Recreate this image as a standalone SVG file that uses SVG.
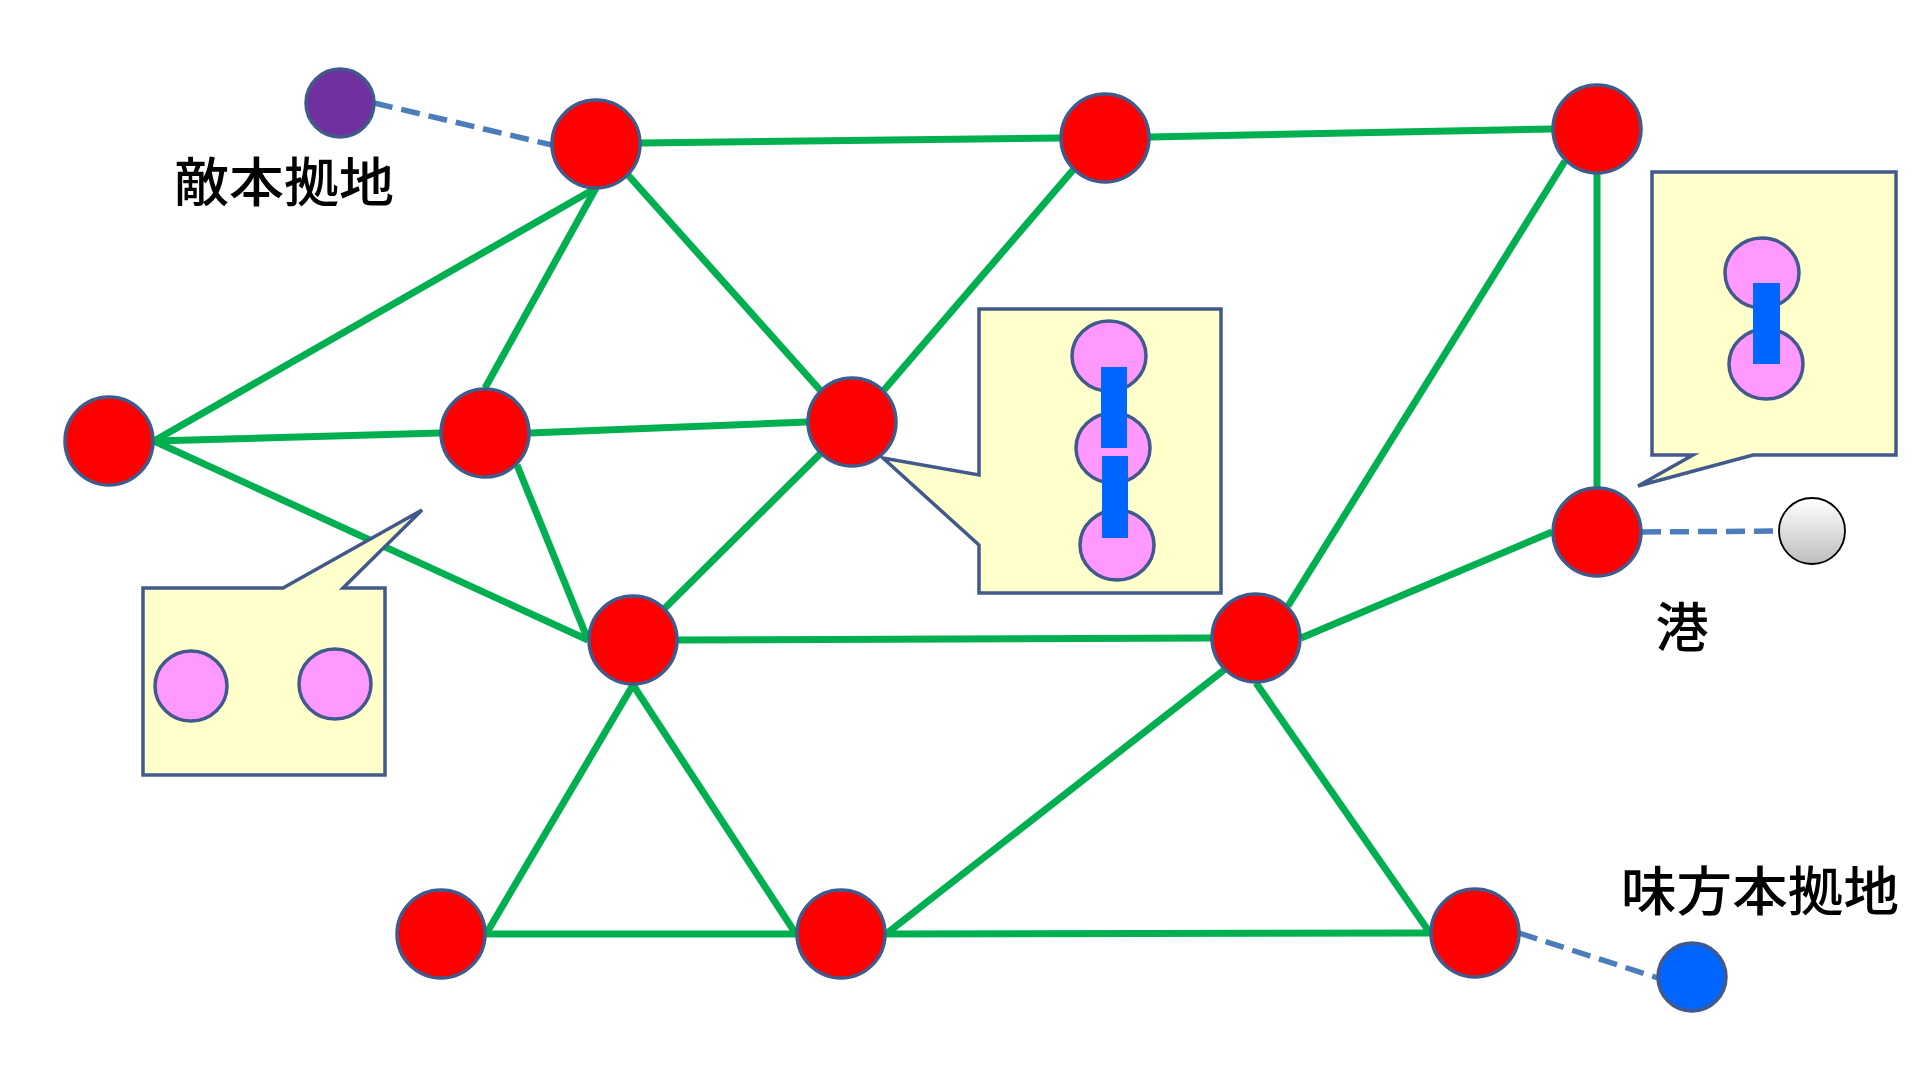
<svg xmlns="http://www.w3.org/2000/svg" width="1920" height="1080" viewBox="0 0 1920 1080">
<defs>
<linearGradient id="gray" x1="0" y1="0" x2="0" y2="1">
<stop offset="0" stop-color="#FFFFFF"/>
<stop offset="1" stop-color="#BDBDBD"/>
</linearGradient>
</defs>
<style>
.edge{stroke:#00B050;stroke-width:7;fill:none;stroke-linecap:butt}
.dash{stroke:#4A7EBB;stroke-width:5.5;fill:none;stroke-dasharray:19 9}
.node{fill:#FF0000;stroke:#41598B;stroke-width:3.5}
.callout{fill:#FFFFCC;stroke:#41598B;stroke-width:3.5;stroke-linejoin:miter}
.unit{fill:#FF99FF;stroke:#41598B;stroke-width:3.5}
.link{fill:#0066FF}
.label{font-family:"Noto Sans CJK JP","Noto Sans CJK SC",sans-serif;font-size:53px;font-weight:500;fill:#000}
</style>
<rect width="1920" height="1080" fill="#FFFFFF"/>
<g id="connectors">
<line class="edge" x1="641" y1="143" x2="1060" y2="138"/>
<line class="edge" x1="1150" y1="137" x2="1552" y2="129"/>
<line class="edge" x1="596" y1="188" x2="154" y2="441"/>
<line class="edge" x1="596" y1="188" x2="485" y2="388"/>
<line class="edge" x1="628" y1="175" x2="820" y2="390"/>
<line class="edge" x1="1073" y1="170" x2="884" y2="390"/>
<line class="edge" x1="1597" y1="174" x2="1597" y2="487"/>
<line class="edge" x1="1565" y1="161" x2="1288" y2="606"/>
<line class="edge" x1="154" y1="441" x2="440" y2="433"/>
<line class="edge" x1="154" y1="441" x2="588" y2="640"/>
<line class="edge" x1="530" y1="433" x2="807" y2="422"/>
<line class="edge" x1="517" y1="465" x2="588" y2="640"/>
<line class="edge" x1="820" y1="454" x2="665" y2="608"/>
<line class="edge" x1="678" y1="640" x2="1211" y2="638"/>
<line class="edge" x1="633" y1="685" x2="486" y2="934"/>
<line class="edge" x1="633" y1="685" x2="796" y2="934"/>
<line class="edge" x1="1301" y1="638" x2="1552" y2="532"/>
<line class="edge" x1="1224" y1="670" x2="886" y2="934"/>
<line class="edge" x1="1256" y1="683" x2="1430" y2="933"/>
<line class="edge" x1="486" y1="934" x2="796" y2="934"/>
<line class="edge" x1="886" y1="934" x2="1430" y2="933"/>
<line class="dash" x1="374" y1="103" x2="552" y2="145"/>
<line class="dash" x1="1642" y1="532" x2="1779" y2="531"/>
<line class="dash" x1="1519" y1="933" x2="1658" y2="978"/>
</g>
<g id="enemy-base">
<circle cx="340" cy="103" r="34" fill="#7030A0" stroke="#41598B" stroke-width="3.5"/>
<text class="label" x="174" y="202" textLength="220" lengthAdjust="spacingAndGlyphs">敵本拠地</text>
</g>
<g id="n1"><circle class="node" cx="596" cy="144" r="44"/></g>
<g id="n2"><circle class="node" cx="1105" cy="138" r="44"/></g>
<g id="n3"><circle class="node" cx="1597" cy="129" r="44"/></g>
<g id="n4"><circle class="node" cx="109" cy="441" r="44"/></g>
<g id="n5"><circle class="node" cx="485" cy="433" r="44"/></g>
<g id="n6"><circle class="node" cx="852" cy="422" r="44"/></g>
<g id="n7"><circle class="node" cx="633" cy="640" r="44"/></g>
<g id="n8"><circle class="node" cx="1256" cy="638" r="44"/></g>
<g id="n9"><circle class="node" cx="1597" cy="532" r="44"/></g>
<g id="n10"><circle class="node" cx="441" cy="934" r="44"/></g>
<g id="n11"><circle class="node" cx="841" cy="934" r="44"/></g>
<g id="n12"><circle class="node" cx="1475" cy="933" r="44"/></g>
<g id="port">
<circle cx="1812" cy="531" r="33" fill="url(#gray)" stroke="#000" stroke-width="1.8"/>
<text class="label" x="1682" y="647" text-anchor="middle">港</text>
</g>
<g id="own-base">
<circle cx="1692" cy="977" r="34" fill="#0066FF" stroke="#41598B" stroke-width="3.5"/>
<text class="label" x="1621" y="911" textLength="278" lengthAdjust="spacingAndGlyphs">味方本拠地</text>
</g>
<g id="callout-left">
<path class="callout" d="M143,588 L283,588 L422,510 L343,588 L385,588 L385,775 L143,775 Z"/>
<ellipse class="unit" cx="191" cy="686" rx="36" ry="35"/>
<ellipse class="unit" cx="335" cy="684" rx="36" ry="35"/>
</g>
<g id="callout-middle">
<path class="callout" d="M979,309 L1221,309 L1221,593 L979,593 L979,545 L883,458 L979,475 Z"/>
<ellipse class="unit" cx="1109" cy="356" rx="37" ry="35"/>
<ellipse class="unit" cx="1113" cy="448" rx="37" ry="35"/>
<ellipse class="unit" cx="1117" cy="545" rx="37" ry="35"/>
<rect class="link" x="1101" y="367" width="26" height="81"/>
<rect class="link" x="1102" y="456" width="26" height="82"/>
</g>
<g id="callout-right">
<path class="callout" d="M1652,172 L1896,172 L1896,455 L1753,455 L1638,486 L1693,455 L1652,455 Z"/>
<ellipse class="unit" cx="1762" cy="273" rx="37" ry="35"/>
<ellipse class="unit" cx="1766" cy="364" rx="37" ry="35"/>
<rect class="link" x="1753" y="283" width="27" height="81"/>
</g>
</svg>
